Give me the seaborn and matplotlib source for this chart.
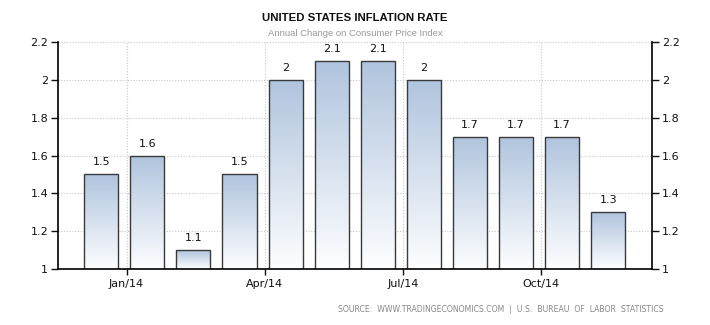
import numpy as np
import pandas as pd
import matplotlib
matplotlib.use("Agg")
import matplotlib.pyplot as plt
from matplotlib.ticker import FuncFormatter, MultipleLocator
import seaborn as sns

months = ["Dec/13", "Jan/14", "Feb/14", "Mar/14", "Apr/14", "May/14",
          "Jun/14", "Jul/14", "Aug/14", "Sep/14", "Oct/14", "Nov/14"]
values = [1.5, 1.6, 1.1, 1.5, 2.0, 2.1, 2.1, 2.0, 1.7, 1.7, 1.7, 1.3]
tick_months = ["Jan/14", "Apr/14", "Jul/14", "Oct/14"]

title = "UNITED STATES INFLATION RATE"
subtitle = "Annual Change on Consumer Price Index"
source = "SOURCE:  WWW.TRADINGECONOMICS.COM  |  U.S.  BUREAU  OF  LABOR  STATISTICS"

sns.set_style("white")
plt.rcParams["font.family"] = ["DejaVu Sans"]

df = pd.DataFrame({"month": months, "value": values})

fig = plt.figure(figsize=(7.1, 3.25), dpi=100)
ax = fig.add_axes([58/710, 1-269/325, (652-58)/710, (269-42)/325])

sns.barplot(data=df, x="month", y="value", ax=ax, width=0.74,
            color="#b0c4de", edgecolor="#3a3a3a", linewidth=1.0, zorder=3)

ymin, ymax = 1, 2.2
xlim = (-0.937, 11.95)
ax.set_ylim(ymin, ymax)
ax.set_xlim(*xlim)

# gradient fill for each bar (visible part only)
grad = np.linspace(0, 1, 256).reshape(-1, 1)
top = np.array([176, 196, 222]) / 255.0
bot = np.array([253, 254, 255]) / 255.0
img = top[None, None, :] * (1 - grad[:, :, None]) + bot[None, None, :] * grad[:, :, None]
for p in ax.patches:
    x0, w = p.get_x(), p.get_width()
    y_top = p.get_y() + p.get_height()
    y_bot = max(p.get_y(), ymin)
    im = ax.imshow(img, extent=[x0, x0 + w, y_bot, y_top], aspect="auto",
                   origin="upper", zorder=2, interpolation="bilinear")
    im.set_clip_path(p)
    p.set_facecolor("none")
ax.set_xlim(*xlim)
ax.set_ylim(ymin, ymax)

for c in ax.containers:
    ax.bar_label(c, fmt="%g", padding=5, fontsize=8, color="#111111")

ax.yaxis.set_major_locator(MultipleLocator(0.2))
ax.yaxis.set_major_formatter(FuncFormatter(lambda v, _: f"{v:g}"))
tick_pos = [months.index(m) - 0.45 for m in tick_months]
ax.set_xticks(tick_pos)
ax.set_xticklabels(tick_months)

ax.tick_params(axis="y", left=True, right=True, labelleft=True, labelright=True,
               direction="out", length=5, width=1, labelsize=8, colors="#111111", pad=2)
ax.tick_params(axis="x", bottom=True, direction="out", length=4, width=1,
               labelsize=8, colors="#111111", pad=3)

ax.grid(True, which="major", axis="both", linestyle=(0, (1, 1.5)),
        color="#c8c8c8", linewidth=0.8, zorder=0)
ax.set_axisbelow(True)

for s in ["left", "right", "bottom"]:
    ax.spines[s].set_visible(True)
    ax.spines[s].set_color("black")
    ax.spines[s].set_linewidth(1.2)
    ax.spines[s].set_zorder(5)
ax.spines["top"].set_visible(False)

ax.set_xlabel("")
ax.set_ylabel("")

fig.text(355/710, 1-18/325, title, ha="center", va="center", fontsize=8.2,
         fontweight="bold", color="#111111", family=["Liberation Sans", "DejaVu Sans"])
fig.text(355/710, 1-34/325, subtitle, ha="center", va="center", fontsize=6.8,
         color="#999999", family=["Liberation Sans", "DejaVu Sans"])
fig.text(664/710, 1-310/325, source, ha="right", va="center", fontsize=5.6,
         color="#888888")

fig.savefig("out.png", dpi=100)
